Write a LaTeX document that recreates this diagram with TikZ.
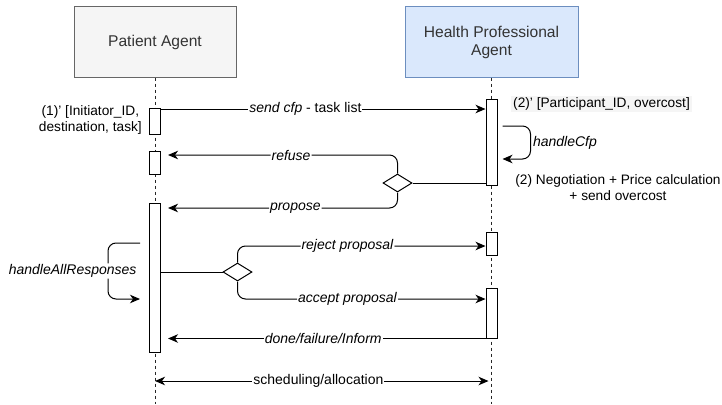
\documentclass[tikz,border=0pt]{standalone}
\usepackage{fontspec}
\setmainfont{Liberation Sans}
\usetikzlibrary{arrows.meta,shapes.geometric}

\definecolor{agentgray}{HTML}{F5F5F5}
\definecolor{agentgrayline}{HTML}{666666}
\definecolor{agentblue}{HTML}{DAE8FC}
\definecolor{agentblueline}{HTML}{6C8EBF}
\definecolor{agenttext}{HTML}{333333}

\begin{document}
\begin{tikzpicture}[x=1pt,y=-1pt,
	>={Stealth[length=10pt,width=8.5pt,inset=3pt]},
	agent/.style={draw, line width=1pt, minimum height=70pt, inner sep=2pt, align=center, text=agenttext, font=\fontsize{15.6}{18}\selectfont},
	act/.style={draw, fill=white, line width=1pt, minimum width=11pt, inner sep=0pt},
	lifeline/.style={line width=1pt, dash pattern=on 3pt off 3pt, black!85},
	msg/.style={line width=1pt, ->},
	choice/.style={draw, fill=white, diamond, line width=1pt, minimum width=29pt, minimum height=18pt, inner sep=0pt},
	lbl/.style={fill=white, inner sep=1pt, font=\fontsize{14}{17}\selectfont},
	note/.style={align=center, inner sep=0pt, font=\fontsize{13.7}{16}\selectfont}]
	
	\useasboundingbox (0,0) rectangle (722,404);
	
	% Agentes
	\node[agent, fill=agentgray, draw=agentgrayline, minimum width=162pt] (patient) at (155,42) {Patient Agent};
	\node[agent, fill=agentblue, draw=agentblueline, minimum width=173pt] (health) at (491.5,42) {Health Professional\\Agent};
	
	% Niveis das mensagens
	\coordinate (bottomY) at (0,404);
	\coordinate (cfpY) at (0,109);
	\coordinate (refY) at (0,155);
	\coordinate (propY) at (0,208);
	\coordinate (cfpLoopY) at (0,126);
	\coordinate (respLoopY) at (0,243);
	\coordinate (rejY) at (0,246);
	\coordinate (accY) at (0,299);
	\coordinate (schY) at (0,381);
	
	% Linhas de vida
	\draw[lifeline] (patient.south) -- (patient.south |- bottomY);
	\draw[lifeline] (health.south) -- (health.south |- bottomY);
	
	% Ativacoes
	\node[act, minimum height=26pt] (pA1) at (155,121) {};
	\node[act, minimum height=23pt] (pA2) at (155,162.5) {};
	\node[act, minimum height=149pt] (pA3) at (155,277.5) {};
	\node[act, minimum height=86pt] (hA1) at (491.5,142) {};
	\node[act, minimum height=23pt] (hA2) at (491.5,243.5) {};
	\node[act, minimum height=50pt] (hA3) at (491.5,313) {};
	
	% Escolhas
	\node[choice] (dCfp) at (397.5,183) {};
	\node[choice] (dResp) at (237.5,272) {};
	
	% Notas
	\node[note, anchor=east] (initNote) at (142,120) {(1)' [Initiator\_ID,\\destination, task]};
	\node[note, anchor=west, fill=black!4, inner sep=2pt] (partNote) at (511,104) {(2)' [Participant\_ID, overcost]};
	\node[note] (negNote) at (618,187.5) {(2) Negotiation + Price calculation\\+ send overcost};
	
	% Call for proposal
	\draw[msg] (pA1.east |- cfpY) -- (hA1.west |- cfpY) node[lbl, pos=.445] {\textit{send cfp} - task list};
	
	\draw[msg, rounded corners=8pt] ([xshift=5pt]hA1.east |- cfpLoopY) -- ++(28,0) -- ++(0,33) node[lbl, midway, anchor=west, fill=none, xshift=1pt] {\textit{handleCfp}} -- ++(-28,0);
	
	\draw[line width=1pt] (dCfp.east) -- (dCfp.east -| hA1.west);
	\draw[msg, rounded corners=8pt, shorten >=7pt] (dCfp.north) |- (pA2.east |- refY) node[lbl, pos=.725] {\textit{refuse}};
	\draw[msg, rounded corners=8pt, shorten >=7pt] (dCfp.south) |- (pA3.east |- propY) node[lbl, pos=.716] {\textit{propose}};
	
	% Respostas
	\draw[msg, rounded corners=8pt] ([xshift=-9pt]pA3.west |- respLoopY) -- ++(-32,0) -- ++(0,56) node[lbl, midway, anchor=east, xshift=30pt] {\textit{handleAllResponses}} -- ++(32,0);
	
	\draw[line width=1pt] (pA3.east |- dResp) -- (dResp.west);
	\draw[msg, rounded corners=8pt] (dResp.north) |- (hA2.west |- rejY) node[lbl, pos=.722] {\textit{reject proposal}};
	\draw[msg, rounded corners=8pt] (dResp.south) |- (hA3.west |- accY) node[lbl, pos=.722] {\textit{accept proposal}};
	
	\draw[msg, shorten >=7pt] (hA3.south west) -- (pA3.east |- hA3.south west) node[lbl, pos=.5] {\textit{done/failure/Inform}};
	
	% Agendamento
	\draw[line width=1pt, <->] (patient.south |- schY) -- ([xshift=-3pt]health.south |- schY) node[lbl, pos=.49] {scheduling/allocation};
\end{tikzpicture}
\end{document}
